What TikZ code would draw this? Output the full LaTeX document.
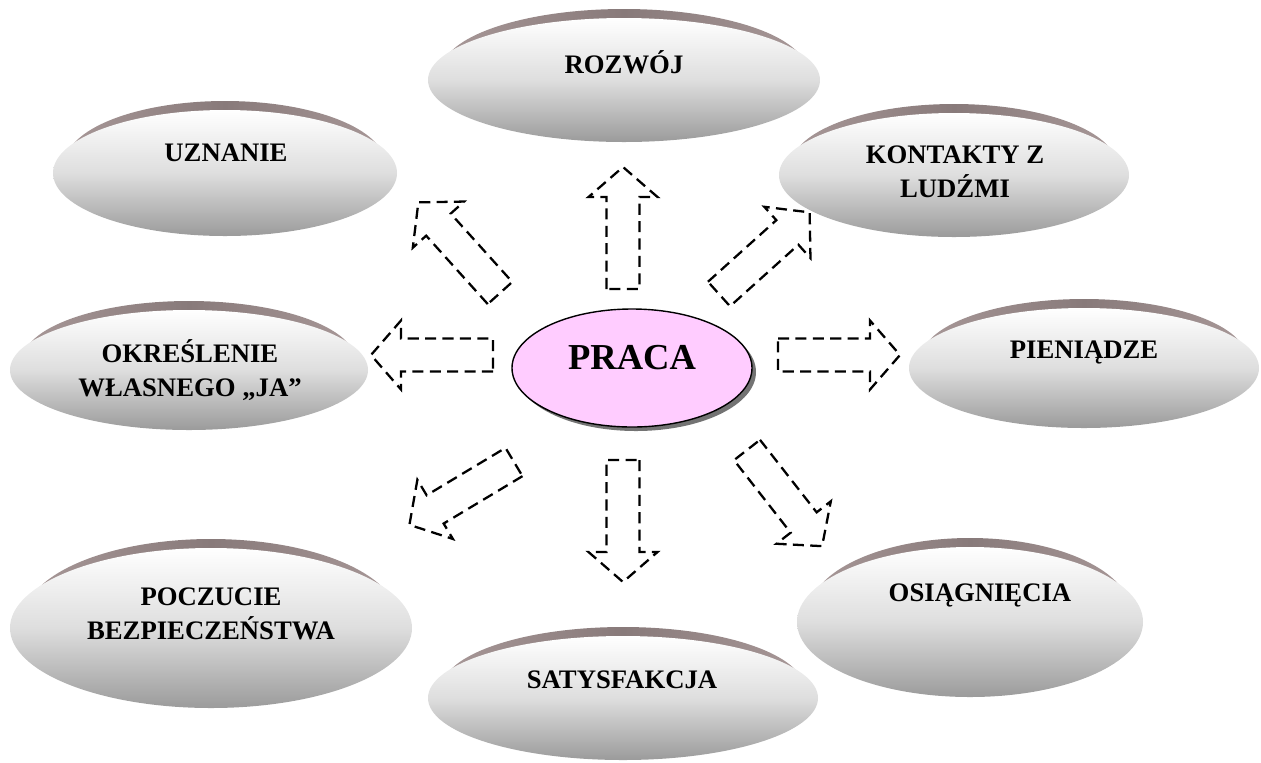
\documentclass[tikz,border=0pt]{standalone}
\usepackage{fontspec}
\setmainfont{Liberation Serif}
\definecolor{rimdark}{RGB}{136,122,122}
\definecolor{rimlight}{RGB}{168,152,152}
\definecolor{ellmid}{RGB}{222,222,222}
\definecolor{ellbot}{RGB}{155,155,155}
\definecolor{pracapink}{RGB}{255,204,255}
\tikzset{
  rim/.style={left color=rimlight,right color=rimlight,middle color=rimdark},
  bubble/.style={top color=white,bottom color=ellbot,middle color=ellmid},
  lbl/.style={font=\bfseries\fontsize{15.2}{19.5}\selectfont,align=center},
  hollowarrow/.style={draw,line width=1.3pt,dash pattern=on 6.3pt off 3.6pt,line join=miter}
}
% name, x, y, x radius, y radius
\newcommand\bubble[5]{%
  \shade[rim] (#2,#3-9) ellipse [x radius=0.93*#4, y radius=#5];
  \shade[bubble] (#2,#3) ellipse [x radius=#4, y radius=#5];
  \coordinate (#1) at (#2,#3);
}
\begin{document}
\begin{tikzpicture}[x=0.02cm,y=-0.02cm]
\useasboundingbox (0,0) rectangle (1261,762);
\bubble{rozwoj}{624}{80}{196}{62}
\bubble{uznanie}{225}{173}{172}{63}
\bubble{kontakty}{954}{175}{175}{62}
\bubble{okreslenie}{189}{370}{179}{60}
\bubble{pieniadze}{1084}{368}{175}{60}
\bubble{poczucie}{211}{628}{201}{80}
\bubble{satysfakcja}{623}{698}{195}{62}
\bubble{osiagniecia}{970}{622}{173}{75}

% praca
\fill[black!55] (636,372) ellipse [x radius=120, y radius=59];
\filldraw[fill=pracapink,line width=0.8pt] (632,368) ellipse [x radius=120, y radius=59];
\coordinate (praca) at (632,368);

% dashed arrows
\foreach \x/\y/\r in {623/289/90, 623/460/-90, 778/355/0, 493/355/180, 500/293/132, 719/294/42, 514/462/211, 747/450/-52}
  \draw[hollowarrow,shift={(\x,\y)},rotate=\r] (0,-16.5) -- (92,-16.5) -- (92,-34.5) -- (122,0) -- (92,34.5) -- (92,16.5) -- (0,16.5) -- cycle;

\node[lbl] (trozwoj) at (624,62) {ROZWÓJ};
\node[lbl] (tuznanie) at (226,153) {UZNANIE};
\node[lbl] (tkontakty) at (955,172) {KONTAKTY Z\\LUDŹMI};
\node[lbl] (tpieniadze) at (1084,352) {PIENIĄDZE};
\node[lbl] (tokreslenie) at (190,370) {OKREŚLENIE\\WŁASNEGO „JA”};
\node[lbl] (tpoczucie) at (211,614) {POCZUCIE\\BEZPIECZEŃSTWA};
\node[lbl] (tosiagniecia) at (980,595) {OSIĄGNIĘCIA};
\node[lbl] (tsatysfakcja) at (622,680) {SATYSFAKCJA};
\node[font=\bfseries\fontsize{20.8}{24}\selectfont] (tpraca) at (632,358) {PRACA};
\end{tikzpicture}
\end{document}
